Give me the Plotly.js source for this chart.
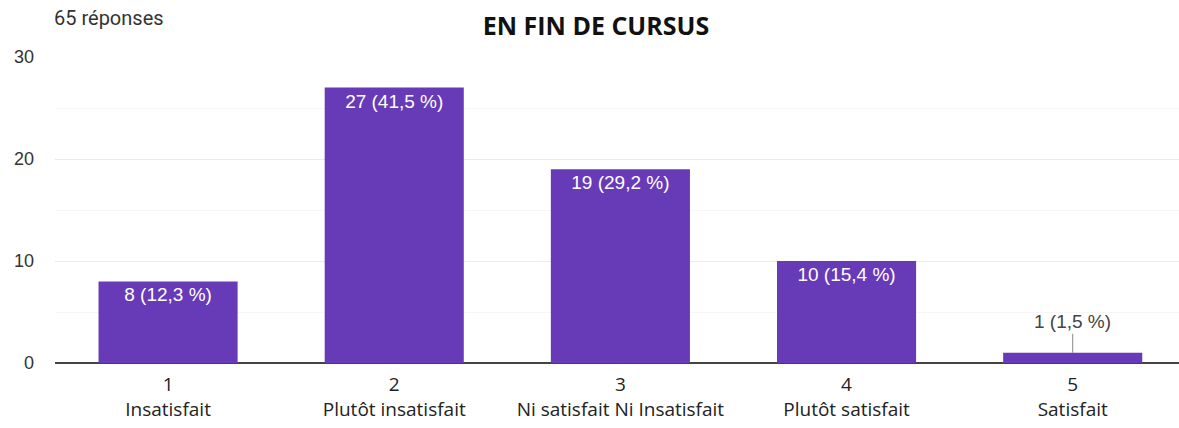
<!DOCTYPE html>
<html><head><meta charset="utf-8">
<script src="https://cdn.plot.ly/plotly-3.0.1.min.js"></script>
<style>html,body{margin:0;padding:0;background:#fff}</style>
</head><body>
<div id="chart" style="width:1179px;height:428px"></div>
<script>
const categories = ["1", "2", "3", "4", "5"];
const categoryNames = ["Insatisfait", "Plutôt insatisfait", "Ni satisfait Ni Insatisfait", "Plutôt satisfait", "Satisfait"];
const counts = [8, 27, 19, 10, 1];
const total = 65;
const percents = ["12,3", "41,5", "29,2", "15,4", "1,5"];
const yTicks = [0, 10, 20, 30];

const labels = counts.map((c, i) => c + " (" + percents[i] + " %)");
const insideText = labels.map((t, i) => counts[i] >= 5 ? t : "");
const tickText = categories.map((c, i) => c + "<br>" + categoryNames[i]);

const annotations = [{
  text: total + " réponses", xref: "paper", yref: "paper", x: -0.003, y: 1 + 39/306,
  xanchor: "left", yanchor: "middle", showarrow: false,
  font: {family: "Roboto, Arial, sans-serif", size: 20, color: "#333"}
}];
counts.forEach((c, i) => {
  if (c < 5) {
    annotations.push({
      x: i, y: c, xref: "x", yref: "y", text: labels[i], showarrow: true,
      arrowhead: 0, arrowwidth: 1, arrowcolor: "#888", ax: 0, ay: -19, standoff: 0,
      font: {family: "Arial, Liberation Sans, sans-serif", size: 19, color: "#444"},
      yanchor: "bottom"
    });
  }
});

Plotly.newPlot("chart", [{
  type: "bar", x: categories, y: counts, text: insideText,
  textposition: "inside", insidetextanchor: "end", textangle: 0,
  textfont: {family: "Arial, Liberation Sans, sans-serif", size: 19, color: "#fff"},
  marker: {color: "#673ab7"}, width: 0.615, hoverinfo: "skip", cliponaxis: false
}], {
  width: 1179, height: 428,
  margin: {l: 55, r: 0, t: 57, b: 65, pad: 0},
  paper_bgcolor: "#fff", plot_bgcolor: "#fff",
  showlegend: false,
  title: {text: "<b>EN FIN DE CURSUS</b>", x: 0.5055, xref: "container", y: 1 - 26/428, yref: "container",
    xanchor: "center", yanchor: "middle",
    font: {family: "Open Sans, Noto Sans, sans-serif", size: 25, color: "#111"}},
  xaxis: {
    type: "category", range: [-0.5, 4.47], tickvals: categories, ticktext: tickText,
    showgrid: false, zeroline: false, showline: false, ticks: "",
    ticklabelstandoff: 8,
    tickfont: {family: "Open Sans, Noto Sans, sans-serif", size: 19, color: "#222"},
    fixedrange: true
  },
  yaxis: {
    range: [0, 30], tickvals: yTicks, ticks: "", showline: false,
    gridcolor: "#ebebeb", gridwidth: 1,
    minor: {dtick: 5, tick0: 0, showgrid: true, gridcolor: "#f6f6f6", gridwidth: 1},
    zeroline: true, zerolinecolor: "#444", zerolinewidth: 2,
    ticklabelstandoff: 20,
    tickfont: {family: "Arial, Liberation Sans, sans-serif", size: 18, color: "#333"},
    fixedrange: true
  },
  annotations: annotations
}, {displayModeBar: false, staticPlot: true});
</script>
</body></html>
